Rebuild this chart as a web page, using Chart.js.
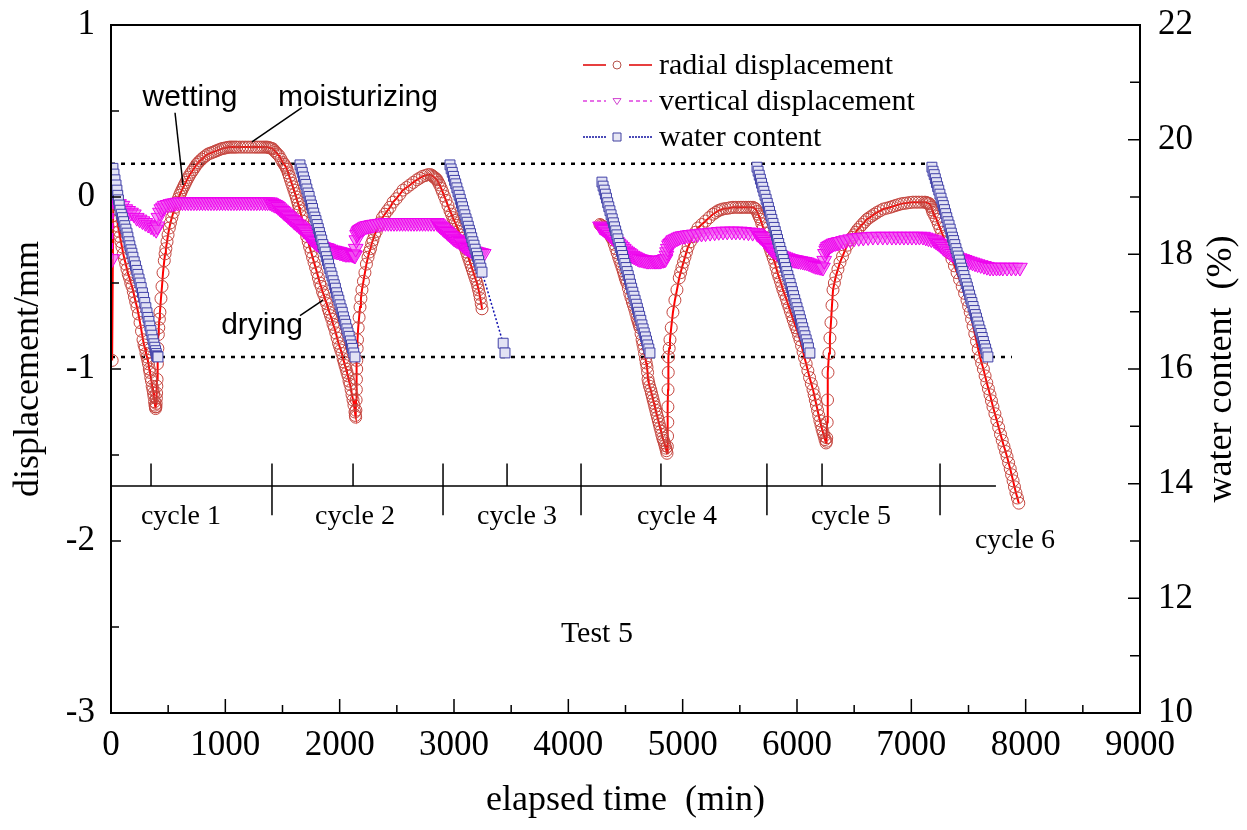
<!DOCTYPE html>
<html>
<head>
<meta charset="utf-8">
<title>Test 5 - displacement and water content</title>
<script src="https://cdn.jsdelivr.net/npm/chart.js@4.4.0/dist/chart.umd.min.js"></script>
<style>
  html, body { margin: 0; padding: 0; background: #fff; }
  #chart { display: block; }
</style>
</head>
<body>
<canvas id="chart" width="1247" height="830"></canvas>
<script>
// [elapsed time (min), value]; a null value breaks the curve
const radial = [
  [10,-0.95],[20,-0.01],[28,-0.02],[35,-0.04],[42,-0.07],[50,-0.11],[56,-0.14],[61,-0.17],[70,-0.20],
  [78,-0.23],[87,-0.26],[96,-0.29],[107,-0.33],[118,-0.36],[129,-0.39],[140,-0.42],[151,-0.45],
  [162,-0.47],[173,-0.50],[184,-0.52],[195,-0.55],[205,-0.58],[216,-0.61],[227,-0.64],[240,-0.68],
  [254,-0.73],[267,-0.78],[280,-0.83],[289,-0.86],[298,-0.88],[306,-0.91],[315,-0.93],[322,-0.95],
  [328,-0.97],[335,-1.00],[341,-1.02],[348,-1.05],[354,-1.07],[360,-1.10],[367,-1.12],[372,-1.14],
  [376,-1.16],[381,-1.19],[385,-1.21],[388,-1.22],[390,-1.23],[393,-1.22],[395,-1.20],[397,-1.17],
  [399,-1.14],[401,-1.10],[403,-1.06],[406,-0.97],[410,-0.88],[414,-0.80],[418,-0.76],[423,-0.71],
  [428,-0.67],[437,-0.59],[446,-0.52],[455,-0.44],[466,-0.37],[473,-0.33],[480,-0.30],[490,-0.26],
  [499,-0.22],[510,-0.18],[520,-0.15],[532,-0.12],[545,-0.09],[560,-0.06],[577,-0.03],[588,-0.01],
  [600,0.01],[610,0.025],[620,0.04],[631,0.055],[642,0.07],[654,0.085],[665,0.10],[677,0.115],
  [690,0.13],[705,0.145],[720,0.16],[735,0.175],[750,0.19],[764,0.20],[778,0.21],[794,0.22],
  [810,0.23],[830,0.24],[850,0.25],[870,0.255],[890,0.26],[908,0.265],[927,0.27],[946,0.275],
  [965,0.28],[982,0.283],[1000,0.285],[1018,0.288],[1035,0.29],[1051,0.29],[1067,0.29],[1084,0.29],
  [1100,0.29],[1125,0.29],[1150,0.29],[1175,0.29],[1200,0.29],[1225,0.29],[1250,0.29],[1270,0.29],
  [1290,0.29],[1310,0.29],[1330,0.29],[1348,0.29],[1365,0.29],[1378,0.288],[1391,0.285],[1403,0.283],
  [1415,0.28],[1428,0.27],[1440,0.26],[1455,0.25],[1470,0.24],[1487,0.22],[1504,0.20],[1515,0.19],
  [1525,0.18],[1533,0.17],[1540,0.16],[1550,0.14],[1560,0.12],[1570,0.10],[1580,0.08],[1590,0.06],
  [1600,0.04],[1610,0.02],[1620,0.00],[1628,-0.02],[1637,-0.04],[1645,-0.06],[1653,-0.08],
  [1665,-0.11],[1677,-0.14],[1689,-0.17],[1700,-0.20],[1712,-0.23],[1725,-0.26],[1737,-0.29],
  [1750,-0.32],[1763,-0.35],[1776,-0.38],[1789,-0.41],[1802,-0.44],[1814,-0.47],[1826,-0.50],
  [1838,-0.52],[1850,-0.55],[1862,-0.57],[1875,-0.60],[1887,-0.62],[1900,-0.65],[1910,-0.67],
  [1920,-0.69],[1931,-0.71],[1942,-0.74],[1954,-0.76],[1966,-0.79],[1978,-0.82],[1990,-0.85],
  [2000,-0.87],[2010,-0.89],[2020,-0.91],[2030,-0.94],[2039,-0.96],[2047,-0.98],[2056,-1.00],
  [2064,-1.02],[2073,-1.04],[2082,-1.07],[2091,-1.09],[2100,-1.12],[2108,-1.15],[2117,-1.18],
  [2125,-1.21],[2134,-1.25],[2137,-1.27],[2140,-1.28],[2142,-1.24],[2144,-1.18],[2146,-1.12],
  [2147,-1.06],[2149,-1.00],[2150,-0.95],[2153,-0.88],[2156,-0.83],[2162,-0.76],[2170,-0.70],
  [2178,-0.64],[2186,-0.59],[2195,-0.54],[2208,-0.49],[2221,-0.44],[2234,-0.39],[2248,-0.35],
  [2259,-0.32],[2270,-0.30],[2280,-0.27],[2291,-0.25],[2305,-0.22],[2320,-0.20],[2336,-0.17],
  [2353,-0.15],[2374,-0.12],[2395,-0.10],[2417,-0.08],[2440,-0.06],[2467,-0.03],[2495,-0.01],
  [2525,0.015],[2554,0.04],[2585,0.055],[2615,0.07],[2645,0.085],[2676,0.10],[2700,0.11],
  [2725,0.12],[2750,0.125],[2773,0.13],[2795,0.13],[2806,0.125],[2816,0.12],[2826,0.115],
  [2835,0.11],[2843,0.105],[2851,0.10],[2863,0.085],[2875,0.07],[2888,0.05],[2900,0.03],
  [2915,0.005],[2930,-0.02],[2947,-0.05],[2965,-0.08],[2978,-0.10],[2990,-0.12],[3000,-0.135],
  [3010,-0.15],[3020,-0.165],[3030,-0.18],[3041,-0.20],[3052,-0.22],[3064,-0.24],[3075,-0.26],
  [3088,-0.28],[3100,-0.30],[3110,-0.32],[3120,-0.34],[3130,-0.36],[3140,-0.38],[3150,-0.40],
  [3160,-0.42],[3170,-0.44],[3180,-0.46],[3190,-0.48],[3201,-0.50],[3208,-0.52],[3215,-0.54],
  [3223,-0.565],[3230,-0.59],[3238,-0.62],[3245,-0.65],
  [3760,null],
  [4277,-0.16],[4288,-0.165],[4300,-0.17],[4310,-0.175],[4320,-0.18],[4330,-0.19],[4340,-0.20],
  [4352,-0.21],[4365,-0.22],[4377,-0.235],[4390,-0.25],[4402,-0.275],[4415,-0.30],[4427,-0.325],
  [4440,-0.35],[4450,-0.37],[4460,-0.39],[4470,-0.41],[4480,-0.43],[4488,-0.45],[4497,-0.47],
  [4505,-0.485],[4513,-0.50],[4525,-0.53],[4537,-0.56],[4548,-0.585],[4560,-0.61],[4570,-0.63],
  [4580,-0.65],[4590,-0.675],[4600,-0.70],[4607,-0.715],[4614,-0.73],[4620,-0.745],[4627,-0.76],
  [4636,-0.795],[4645,-0.83],[4652,-0.855],[4660,-0.88],[4667,-0.91],[4675,-0.94],[4681,-0.965],
  [4688,-0.99],[4693,-1.02],[4697,-1.06],[4703,-1.08],[4710,-1.10],[4720,-1.12],[4727,-1.14],
  [4735,-1.16],[4742,-1.18],[4750,-1.20],[4757,-1.22],[4765,-1.24],[4772,-1.26],[4780,-1.28],
  [4787,-1.30],[4795,-1.32],[4802,-1.34],[4810,-1.36],[4817,-1.38],[4825,-1.40],[4832,-1.415],
  [4840,-1.43],[4846,-1.445],[4852,-1.46],[4858,-1.475],[4863,-1.49],[4866,-1.45],[4868,-1.39],
  [4870,-1.31],[4871,-1.22],[4872,-1.12],[4874,-1.02],[4876,-0.93],[4882,-0.88],[4889,-0.83],
  [4900,-0.76],[4915,-0.67],[4932,-0.60],[4950,-0.54],[4970,-0.47],[4982,-0.44],[4994,-0.41],
  [5007,-0.38],[5020,-0.35],[5033,-0.32],[5047,-0.29],[5068,-0.26],[5090,-0.23],[5112,-0.205],
  [5134,-0.18],[5167,-0.16],[5200,-0.14],[5232,-0.12],[5265,-0.10],[5288,-0.09],[5310,-0.08],
  [5330,-0.075],[5350,-0.07],[5375,-0.067],[5400,-0.065],[5420,-0.062],[5440,-0.06],[5465,-0.06],
  [5490,-0.06],[5510,-0.06],[5530,-0.06],[5553,-0.06],[5575,-0.06],[5595,-0.06],[5615,-0.06],
  [5628,-0.065],[5640,-0.07],[5650,-0.085],[5660,-0.10],[5670,-0.115],[5680,-0.13],[5692,-0.155],
  [5705,-0.18],[5721,-0.21],[5737,-0.24],[5748,-0.265],[5760,-0.29],[5770,-0.31],[5780,-0.33],
  [5792,-0.355],[5805,-0.38],[5817,-0.41],[5830,-0.44],[5842,-0.465],[5855,-0.49],[5866,-0.515],
  [5877,-0.54],[5891,-0.565],[5905,-0.59],[5917,-0.615],[5930,-0.64],[5942,-0.665],[5955,-0.69],
  [5967,-0.715],[5980,-0.74],[5991,-0.76],[6003,-0.78],[6014,-0.805],[6026,-0.83],[6040,-0.865],
  [6053,-0.90],[6066,-0.935],[6080,-0.97],[6095,-1.01],[6110,-1.05],[6125,-1.085],[6140,-1.12],
  [6150,-1.15],[6160,-1.18],[6170,-1.21],[6180,-1.24],[6190,-1.27],[6200,-1.30],[6210,-1.325],
  [6219,-1.35],[6228,-1.37],[6237,-1.39],[6245,-1.41],[6254,-1.43],[6257,-1.42],[6260,-1.40],
  [6264,-1.31],[6267,-1.18],[6271,-1.02],[6280,-0.91],[6288,-0.82],[6297,-0.73],[6306,-0.63],
  [6315,-0.54],[6327,-0.50],[6340,-0.46],[6358,-0.42],[6376,-0.38],[6398,-0.345],[6420,-0.31],
  [6441,-0.28],[6463,-0.25],[6482,-0.235],[6500,-0.22],[6515,-0.205],[6530,-0.19],[6550,-0.175],
  [6570,-0.16],[6591,-0.145],[6612,-0.13],[6633,-0.12],[6655,-0.11],[6677,-0.10],[6700,-0.09],
  [6727,-0.08],[6755,-0.07],[6784,-0.065],[6813,-0.06],[6836,-0.055],[6860,-0.05],[6885,-0.045],
  [6910,-0.04],[6935,-0.037],[6960,-0.035],[6987,-0.032],[7014,-0.03],[7040,-0.03],[7065,-0.03],
  [7092,-0.03],[7119,-0.03],[7130,-0.032],[7140,-0.035],[7150,-0.037],[7160,-0.04],[7168,-0.05],
  [7175,-0.06],[7182,-0.075],[7189,-0.09],[7205,-0.11],[7220,-0.13],[7235,-0.155],[7250,-0.18],
  [7265,-0.205],[7280,-0.23],[7296,-0.26],[7312,-0.29],[7333,-0.325],[7355,-0.36],[7377,-0.40],
  [7400,-0.44],[7422,-0.48],[7445,-0.52],[7466,-0.56],[7487,-0.60],[7501,-0.635],[7515,-0.67],
  [7527,-0.71],[7540,-0.75],[7555,-0.795],[7570,-0.84],[7585,-0.885],[7600,-0.93],[7615,-0.965],
  [7630,-1.00],[7645,-1.04],[7660,-1.08],[7674,-1.115],[7688,-1.15],[7701,-1.185],[7714,-1.22],
  [7731,-1.26],[7748,-1.30],[7764,-1.34],[7780,-1.38],[7795,-1.415],[7810,-1.45],[7824,-1.48],
  [7837,-1.51],[7851,-1.545],[7865,-1.58],[7877,-1.615],[7890,-1.65],[7902,-1.685],[7915,-1.72],
  [7928,-1.75],[7940,-1.78]
];

const vertical = [
  [10,-0.36],[20,-0.01],[45,-0.02],[70,-0.04],[100,-0.05],[125,-0.07],[150,-0.08],[175,-0.09],
  [200,-0.10],[225,-0.12],[250,-0.13],[275,-0.14],[300,-0.15],[325,-0.16],[350,-0.17],[375,-0.18],
  [395,-0.19],[405,-0.17],[415,-0.12],[428,-0.09],[440,-0.07],[455,-0.06],[470,-0.05],[495,-0.045],
  [520,-0.04],[540,-0.037],[560,-0.035],[580,-0.032],[600,-0.03],[625,-0.03],[650,-0.03],
  [675,-0.03],[700,-0.03],[725,-0.03],[750,-0.03],[775,-0.03],[800,-0.03],[825,-0.03],[850,-0.03],
  [875,-0.03],[900,-0.03],[925,-0.03],[950,-0.03],[975,-0.03],[1000,-0.03],[1025,-0.03],
  [1050,-0.03],[1075,-0.03],[1100,-0.03],[1125,-0.03],[1150,-0.03],[1175,-0.03],[1200,-0.03],
  [1225,-0.03],[1250,-0.03],[1275,-0.03],[1300,-0.03],[1325,-0.03],[1350,-0.03],[1370,-0.03],
  [1391,-0.03],[1405,-0.035],[1420,-0.04],[1435,-0.045],[1450,-0.05],[1462,-0.057],[1475,-0.065],
  [1487,-0.072],[1500,-0.08],[1512,-0.087],[1525,-0.095],[1537,-0.102],[1550,-0.11],[1562,-0.117],
  [1575,-0.125],[1587,-0.132],[1600,-0.14],[1612,-0.147],[1625,-0.155],[1640,-0.163],[1653,-0.17],
  [1665,-0.177],[1677,-0.185],[1689,-0.192],[1700,-0.20],[1712,-0.21],[1725,-0.22],[1737,-0.23],
  [1750,-0.24],[1763,-0.247],[1776,-0.255],[1789,-0.262],[1802,-0.27],[1814,-0.275],[1826,-0.28],
  [1838,-0.285],[1850,-0.29],[1862,-0.292],[1875,-0.295],[1887,-0.297],[1900,-0.30],[1920,-0.305],
  [1942,-0.31],[1956,-0.312],[1970,-0.315],[1985,-0.317],[2000,-0.32],[2012,-0.322],[2025,-0.325],
  [2037,-0.327],[2050,-0.33],[2062,-0.33],[2075,-0.33],[2087,-0.33],[2100,-0.33],[2110,-0.332],
  [2120,-0.335],[2127,-0.337],[2134,-0.34],[2140,-0.30],[2146,-0.25],[2152,-0.22],[2158,-0.21],
  [2165,-0.20],[2172,-0.195],[2180,-0.19],[2192,-0.185],[2205,-0.18],[2217,-0.175],[2230,-0.17],
  [2247,-0.167],[2265,-0.165],[2282,-0.162],[2300,-0.16],[2325,-0.157],[2350,-0.155],[2375,-0.152],
  [2400,-0.15],[2425,-0.15],[2450,-0.15],[2475,-0.15],[2500,-0.15],[2525,-0.15],[2550,-0.15],
  [2575,-0.15],[2600,-0.15],[2625,-0.15],[2650,-0.15],[2675,-0.15],[2700,-0.15],[2725,-0.15],
  [2750,-0.15],[2775,-0.15],[2800,-0.15],[2825,-0.15],[2851,-0.15],[2863,-0.157],[2875,-0.165],
  [2887,-0.172],[2900,-0.18],[2912,-0.187],[2925,-0.195],[2937,-0.202],[2950,-0.21],[2962,-0.217],
  [2975,-0.225],[2987,-0.232],[3000,-0.24],[3012,-0.245],[3025,-0.25],[3038,-0.255],[3052,-0.26],
  [3063,-0.267],[3075,-0.275],[3087,-0.282],[3100,-0.29],[3112,-0.295],[3125,-0.30],[3137,-0.305],
  [3150,-0.31],[3162,-0.312],[3175,-0.315],[3187,-0.317],[3200,-0.32],[3215,-0.322],[3230,-0.325],
  [3245,-0.327],[3260,-0.33],
  [3760,null],
  [4277,-0.17],[4288,-0.175],[4300,-0.18],[4310,-0.185],[4320,-0.19],[4335,-0.20],[4350,-0.21],
  [4365,-0.22],[4380,-0.23],[4395,-0.24],[4410,-0.25],[4425,-0.26],[4440,-0.27],[4455,-0.28],
  [4470,-0.29],[4485,-0.30],[4500,-0.31],[4515,-0.317],[4530,-0.325],[4545,-0.332],[4560,-0.34],
  [4575,-0.345],[4590,-0.35],[4605,-0.355],[4620,-0.36],[4637,-0.362],[4655,-0.365],[4671,-0.367],
  [4688,-0.37],[4704,-0.37],[4720,-0.37],[4735,-0.37],[4750,-0.37],[4762,-0.37],[4775,-0.37],
  [4788,-0.37],[4802,-0.37],[4816,-0.367],[4830,-0.365],[4840,-0.362],[4850,-0.36],[4858,-0.34],
  [4863,-0.32],[4870,-0.30],[4880,-0.28],[4890,-0.272],[4900,-0.265],[4910,-0.257],[4920,-0.25],
  [4935,-0.245],[4950,-0.24],[4965,-0.235],[4980,-0.23],[5000,-0.227],[5020,-0.225],[5042,-0.222],
  [5064,-0.22],[5097,-0.217],[5130,-0.215],[5165,-0.212],[5200,-0.21],[5240,-0.207],[5280,-0.205],
  [5316,-0.202],[5353,-0.20],[5390,-0.20],[5430,-0.20],[5465,-0.20],[5500,-0.20],[5537,-0.202],
  [5575,-0.205],[5612,-0.207],[5650,-0.21],[5662,-0.217],[5675,-0.225],[5687,-0.232],[5700,-0.24],
  [5712,-0.25],[5725,-0.26],[5737,-0.27],[5750,-0.28],[5760,-0.287],[5770,-0.295],[5780,-0.302],
  [5790,-0.31],[5807,-0.317],[5825,-0.325],[5842,-0.332],[5860,-0.34],[5880,-0.345],[5900,-0.35],
  [5920,-0.355],[5939,-0.36],[5957,-0.362],[5975,-0.365],[5992,-0.367],[6010,-0.37],[6030,-0.372],
  [6050,-0.375],[6068,-0.377],[6087,-0.38],[6106,-0.385],[6125,-0.39],[6142,-0.395],[6160,-0.40],
  [6177,-0.402],[6195,-0.405],[6211,-0.407],[6227,-0.41],[6238,-0.37],[6245,-0.33],[6255,-0.31],
  [6262,-0.30],[6270,-0.29],[6282,-0.285],[6295,-0.28],[6307,-0.275],[6320,-0.27],[6335,-0.267],
  [6350,-0.265],[6363,-0.262],[6376,-0.26],[6403,-0.255],[6430,-0.25],[6465,-0.245],[6500,-0.24],
  [6540,-0.237],[6580,-0.235],[6622,-0.232],[6664,-0.23],[6707,-0.23],[6750,-0.23],[6790,-0.23],
  [6830,-0.23],[6865,-0.23],[6900,-0.23],[6935,-0.23],[6970,-0.23],[7005,-0.23],[7040,-0.23],
  [7071,-0.23],[7102,-0.23],[7126,-0.235],[7150,-0.24],[7175,-0.245],[7200,-0.25],[7215,-0.257],
  [7230,-0.265],[7245,-0.272],[7260,-0.28],[7275,-0.29],[7290,-0.30],[7312,-0.31],[7333,-0.32],
  [7355,-0.33],[7377,-0.34],[7400,-0.35],[7422,-0.355],[7445,-0.36],[7466,-0.365],[7487,-0.37],
  [7511,-0.375],[7535,-0.38],[7557,-0.385],[7580,-0.39],[7607,-0.395],[7635,-0.40],[7661,-0.405],
  [7688,-0.41],[7716,-0.41],[7745,-0.41],[7772,-0.41],[7800,-0.41],[7837,-0.41],[7875,-0.41],
  [7912,-0.41],[7950,-0.41]
];

// water content (%)
const water = [
  [17,19.50],[26,19.40],[35,19.30],[44,19.21],[52,19.12],[59,19.03],[65,18.95],[72,18.86],[79,18.77],
  [90,18.70],[100,18.64],[110,18.57],[120,18.50],[130,18.44],[140,18.37],[148,18.30],[157,18.22],
  [165,18.15],[174,18.08],[183,18.02],[192,17.95],[203,17.87],[214,17.80],[225,17.72],[235,17.65],
  [245,17.57],[254,17.50],[264,17.42],[275,17.33],[285,17.25],[295,17.16],[305,17.07],[315,16.98],
  [323,16.90],[332,16.83],[340,16.75],[349,16.67],[358,16.59],[367,16.51],[375,16.44],[383,16.38],
  [390,16.32],[396,16.27],[400,16.23],[405,16.22],[411,16.21],
  [1000,null],
  [1653,19.56],[1663,19.49],[1673,19.43],[1683,19.35],[1693,19.28],[1703,19.22],[1713,19.14],
  [1723,19.07],[1733,19.01],[1743,18.93],[1753,18.86],[1763,18.80],[1773,18.72],[1783,18.65],
  [1793,18.59],[1803,18.52],[1813,18.45],[1823,18.38],[1833,18.31],[1843,18.25],[1853,18.17],
  [1863,18.10],[1873,18.04],[1883,17.96],[1893,17.89],[1903,17.83],[1913,17.75],[1923,17.68],
  [1933,17.62],[1943,17.54],[1953,17.47],[1963,17.41],[1973,17.33],[1983,17.26],[1993,17.20],
  [2003,17.12],[2013,17.05],[2023,16.99],[2033,16.91],[2043,16.84],[2053,16.78],[2063,16.70],
  [2073,16.63],[2083,16.57],[2093,16.49],[2103,16.42],[2113,16.36],[2123,16.28],[2134,16.21],
  [2500,null],
  [2965,19.56],[2975,19.49],[2985,19.43],[2995,19.36],[3005,19.29],[3015,19.23],[3025,19.16],
  [3035,19.09],[3045,19.03],[3055,18.96],[3065,18.89],[3075,18.83],[3085,18.76],[3095,18.69],
  [3105,18.62],[3115,18.56],[3125,18.49],[3135,18.42],[3145,18.36],[3155,18.29],[3165,18.22],
  [3175,18.16],[3185,18.09],[3195,18.02],[3205,17.96],[3215,17.89],[3225,17.82],[3235,17.76],
  [3245,17.69],[3430,16.45],[3446,16.28],
  [3900,null],
  [4294,19.26],[4304,19.19],[4314,19.12],[4324,19.05],[4334,18.98],[4344,18.90],[4354,18.83],
  [4364,18.76],[4374,18.69],[4384,18.62],[4394,18.55],[4404,18.48],[4414,18.41],[4424,18.34],
  [4434,18.27],[4444,18.19],[4454,18.12],[4464,18.05],[4474,17.98],[4484,17.91],[4494,17.84],
  [4504,17.77],[4514,17.70],[4524,17.63],[4534,17.56],[4544,17.48],[4554,17.41],[4564,17.34],
  [4574,17.27],[4584,17.20],[4594,17.13],[4604,17.06],[4614,16.99],[4624,16.92],[4634,16.85],
  [4644,16.77],[4654,16.70],[4664,16.63],[4674,16.56],[4684,16.49],[4694,16.42],[4704,16.35],
  [4714,16.28],
  [5200,null],
  [5650,19.52],[5660,19.45],[5670,19.38],[5680,19.31],[5690,19.24],[5700,19.17],[5710,19.10],
  [5720,19.03],[5730,18.96],[5740,18.89],[5750,18.82],[5760,18.75],[5770,18.68],[5780,18.61],
  [5790,18.54],[5800,18.47],[5810,18.40],[5820,18.33],[5830,18.26],[5840,18.19],[5850,18.12],
  [5860,18.05],[5870,17.98],[5880,17.91],[5890,17.84],[5900,17.77],[5910,17.70],[5920,17.63],
  [5930,17.56],[5940,17.49],[5950,17.42],[5960,17.35],[5970,17.28],[5980,17.21],[5990,17.14],
  [6000,17.07],[6010,17.00],[6020,16.93],[6030,16.86],[6040,16.79],[6050,16.72],[6060,16.65],
  [6070,16.58],[6080,16.51],[6090,16.44],[6100,16.37],[6113,16.28],
  [6600,null],
  [7180,19.52],[7190,19.45],[7200,19.39],[7210,19.32],[7220,19.25],[7230,19.18],[7240,19.12],
  [7250,19.05],[7260,18.98],[7270,18.91],[7280,18.85],[7290,18.78],[7300,18.71],[7310,18.64],
  [7320,18.57],[7330,18.51],[7340,18.44],[7350,18.37],[7360,18.30],[7370,18.24],[7380,18.17],
  [7390,18.10],[7400,18.03],[7410,17.97],[7420,17.90],[7430,17.83],[7440,17.76],[7450,17.70],
  [7460,17.63],[7470,17.56],[7480,17.49],[7490,17.43],[7500,17.36],[7510,17.29],[7520,17.22],
  [7530,17.16],[7540,17.09],[7550,17.02],[7560,16.95],[7570,16.89],[7580,16.82],[7590,16.75],
  [7600,16.68],[7610,16.62],[7620,16.55],[7630,16.48],[7640,16.41],[7650,16.35],[7660,16.28],
  [7670,16.21]
];

// wetting / drying limits of water content: [value, end time]
const wetLimit = [19.58, 7220];
const dryLimit = [16.21, 7880];

// cycle bar (displacement units) and its marks (min)
const cycleBarLevel = -1.68;
const cycleBarEnd = 7740;
const cycleBounds = [1408, 2904, 4111, 5737, 7251];
const cycleTurns = [350, 2117, 3464, 4810, 6219];
const cycleNames = ['cycle 1', 'cycle 2', 'cycle 3', 'cycle 4', 'cycle 5', 'cycle 6'];
const cycleNameAt = [[612, -1.86], [2134, -1.86], [3551, -1.86], [4950, -1.86], [6472, -1.86], [7906, -2.0]];

// stage notes: text, label anchor, leader line from/to
const notes = [
  { text: 'wetting', at: [691, 0.58], from: [560, 0.49], to: [630, 0.07] },
  { text: 'moisturizing', at: [2160, 0.575], from: [1670, 0.52], to: [1233, 0.32] },
  { text: 'drying', at: [1321, -0.75], from: [1653, -0.69], to: [1854, -0.60] }
];
const testName = ['Test 5', 4250, -2.54];

const SERIF = '"Liberation Serif", "Times New Roman", serif';
const SANS = '"Liberation Sans", Arial, sans-serif';

const pts = list => list.map(p => ({ x: p[0], y: p[1] }));

function marker(ctx, kind, cx, cy, r) {
  ctx.beginPath();
  if (kind === 'circle') {
    ctx.arc(cx, cy, r, 0, Math.PI * 2);
  } else if (kind === 'triangle') {
    ctx.moveTo(cx - r, cy - r * 0.6);
    ctx.lineTo(cx + r, cy - r * 0.6);
    ctx.lineTo(cx, cy + r * 0.9);
    ctx.closePath();
  } else {
    ctx.rect(cx - r, cy - r, 2 * r, 2 * r);
  }
  ctx.fill();
  ctx.stroke();
}

const legendItems = [
  { text: 'radial displacement', color: '#e00000', dash: [], kind: 'circle', edge: '#b5524b', fill: '#fff' },
  { text: 'vertical displacement', color: '#e040e0', dash: [4, 3], kind: 'triangle', edge: '#d040d0', fill: '#fff' },
  { text: 'water content', color: '#1010a0', dash: [2, 1], kind: 'rect', edge: '#4040a0', fill: '#e8e8f4' }
];

const extras = {
  id: 'extras',
  afterDatasetsDraw(chart) {
    const { ctx, chartArea: a, scales } = chart;
    const x = scales.x, y = scales.y, y1 = scales.y1;
    ctx.save();

    // frame
    ctx.strokeStyle = '#000';
    ctx.lineWidth = 2;
    ctx.setLineDash([]);
    ctx.strokeRect(a.left, a.top, a.right - a.left, a.bottom - a.top);

    // inward ticks, minor ones halfway between labels
    ctx.lineWidth = 1.5;
    ctx.beginPath();
    const tickSet = (scale, draw) => {
      const vals = scale.ticks.map(t => t.value);
      vals.forEach((v, i) => {
        draw(scale.getPixelForValue(v), true);
        if (i < vals.length - 1) draw(scale.getPixelForValue((v + vals[i + 1]) / 2), false);
      });
    };
    tickSet(x, (px, major) => { ctx.moveTo(px, a.bottom); ctx.lineTo(px, a.bottom - (major ? 14 : 8)); });
    tickSet(y, (py, major) => { ctx.moveTo(a.left, py); ctx.lineTo(a.left + (major ? 10 : 8), py); });
    tickSet(y1, (py, major) => { ctx.moveTo(a.right, py); ctx.lineTo(a.right - (major ? 12 : 10), py); });
    ctx.stroke();

    // cycle bar
    const barY = y.getPixelForValue(cycleBarLevel);
    const up = y.getPixelForValue(cycleBarLevel + 0.13);
    const down = y.getPixelForValue(cycleBarLevel - 0.17);
    ctx.lineWidth = 1.5;
    ctx.beginPath();
    ctx.moveTo(x.getPixelForValue(0), barY);
    ctx.lineTo(x.getPixelForValue(cycleBarEnd), barY);
    cycleBounds.forEach(t => { const px = x.getPixelForValue(t); ctx.moveTo(px, up); ctx.lineTo(px, down); });
    cycleTurns.forEach(t => { const px = x.getPixelForValue(t); ctx.moveTo(px, up); ctx.lineTo(px, barY); });
    ctx.stroke();

    ctx.fillStyle = '#000';
    ctx.textAlign = 'center';
    ctx.textBaseline = 'middle';
    ctx.font = '28px ' + SERIF;
    cycleNames.forEach((name, i) => {
      ctx.fillText(name, x.getPixelForValue(cycleNameAt[i][0]), y.getPixelForValue(cycleNameAt[i][1]));
    });
    ctx.font = '30px ' + SERIF;
    ctx.fillText(testName[0], x.getPixelForValue(testName[1]), y.getPixelForValue(testName[2]));

    // stage notes with leader lines
    ctx.font = '30px ' + SANS;
    ctx.lineWidth = 1.5;
    notes.forEach(n => {
      ctx.fillText(n.text, x.getPixelForValue(n.at[0]), y.getPixelForValue(n.at[1]));
      ctx.beginPath();
      ctx.moveTo(x.getPixelForValue(n.from[0]), y.getPixelForValue(n.from[1]));
      ctx.lineTo(x.getPixelForValue(n.to[0]), y.getPixelForValue(n.to[1]));
      ctx.stroke();
    });

    // legend
    ctx.font = '30px ' + SERIF;
    ctx.textAlign = 'left';
    legendItems.forEach((item, i) => {
      const ly = a.top + 40 + i * 36;
      const lx = a.left + 472;
      ctx.strokeStyle = item.color;
      ctx.lineWidth = 1.5;
      ctx.setLineDash(item.dash);
      ctx.beginPath();
      ctx.moveTo(lx, ly); ctx.lineTo(lx + 23, ly);
      ctx.moveTo(lx + 46, ly); ctx.lineTo(lx + 69, ly);
      ctx.stroke();
      ctx.setLineDash([]);
      ctx.strokeStyle = item.edge;
      ctx.fillStyle = item.fill;
      ctx.lineWidth = 1;
      marker(ctx, item.kind, lx + 34, ly, 4);
      ctx.fillStyle = '#000';
      ctx.fillText(item.text, lx + 76, ly + 1);
    });

    // right axis title, read bottom to top
    ctx.font = '36px ' + SERIF;
    ctx.textAlign = 'center';
    ctx.translate(a.right + 82, (a.top + a.bottom) / 2);
    ctx.rotate(-Math.PI / 2);
    ctx.fillText('water content  (%)', 0, 0);
    ctx.restore();
  }
};

const tickFont = { family: SERIF, size: 35 };
const noEdgePadding = s => { s.paddingTop = 0; s.paddingBottom = 0; s.paddingLeft = 0; s.paddingRight = 0; };

new Chart(document.getElementById('chart'), {
  type: 'scatter',
  data: {
    datasets: [
      {
        label: 'water content', data: pts(water), yAxisID: 'y1', order: 1,
        showLine: true, borderColor: '#1010b0', borderWidth: 1.5, borderDash: [2, 2],
        pointStyle: 'rect', pointRadius: 7, pointBorderWidth: 1,
        pointBorderColor: '#4040a8', pointBackgroundColor: '#e2e2f4'
      },
      {
        label: 'vertical displacement', data: pts(vertical), yAxisID: 'y', order: 2,
        showLine: true, borderColor: '#ff00ff', borderWidth: 1.5, borderDash: [6, 4],
        pointStyle: 'triangle', pointRotation: 180, pointRadius: 8.5, pointBorderWidth: 1,
        pointBorderColor: '#ee00ee', pointBackgroundColor: 'rgba(240,80,240,0.6)'
      },
      {
        label: 'radial displacement', data: pts(radial), yAxisID: 'y', order: 3,
        showLine: true, borderColor: '#ff0000', borderWidth: 2,
        pointStyle: 'circle', pointRadius: 6, pointBorderWidth: 1,
        pointBorderColor: '#c4453e', pointBackgroundColor: 'rgba(255,255,255,0)'
      },
      {
        label: 'wet limit', data: pts([[0, wetLimit[0]], [wetLimit[1], wetLimit[0]]]), yAxisID: 'y1', order: 4,
        showLine: true, borderColor: '#000', borderWidth: 2.5, borderDash: [4, 6], pointRadius: 0
      },
      {
        label: 'dry limit', data: pts([[0, dryLimit[0]], [dryLimit[1], dryLimit[0]]]), yAxisID: 'y1', order: 4,
        showLine: true, borderColor: '#000', borderWidth: 2.5, borderDash: [4, 6], pointRadius: 0
      }
    ]
  },
  options: {
    responsive: false,
    animation: false,
    events: [],
    layout: { padding: { top: 25, left: 0, right: 0, bottom: 0 } },
    plugins: { legend: { display: false }, tooltip: { enabled: false } },
    scales: {
      x: {
        type: 'linear', min: 0, max: 9000,
        grid: { display: false, drawTicks: false },
        border: { display: false },
        ticks: { stepSize: 1000, autoSkip: false, maxRotation: 0, padding: 12, color: '#000', font: tickFont,
                 callback: v => String(v) },
        title: { display: true, text: 'elapsed time  (min)', color: '#000', font: { family: SERIF, size: 36 }, padding: { top: 0, bottom: 8 } },
        afterFit: s => { s.height = 117; noEdgePadding(s); }
      },
      y: {
        position: 'left', min: -3, max: 1,
        grid: { display: false, drawTicks: false },
        border: { display: false },
        ticks: { stepSize: 1, padding: 16, color: '#000', font: tickFont },
        title: { display: true, text: 'displacement/mm', color: '#000', font: { family: SERIF, size: 36 }, padding: { top: 7, bottom: 0 } },
        afterFit: s => { s.width = 111; noEdgePadding(s); }
      },
      y1: {
        position: 'right', min: 10, max: 22,
        grid: { display: false, drawTicks: false },
        border: { display: false },
        ticks: { stepSize: 2, padding: 18, color: '#000', font: tickFont },
        afterFit: s => { s.width = 107; noEdgePadding(s); }
      }
    }
  },
  plugins: [extras]
});
</script>
</body>
</html>
